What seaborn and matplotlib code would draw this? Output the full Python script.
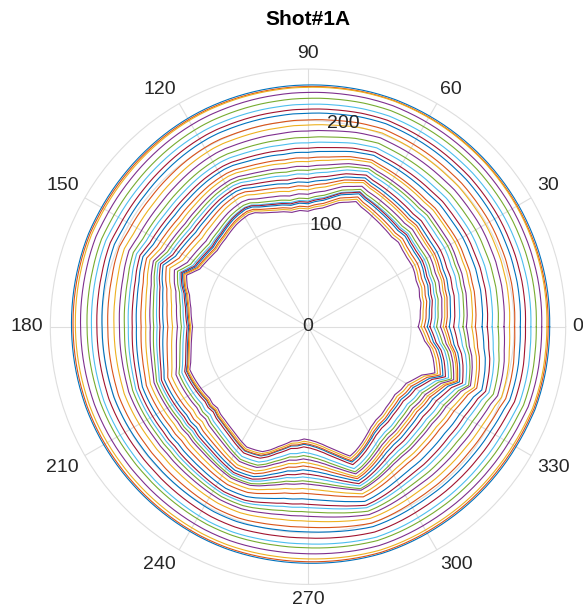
import numpy as np
import pandas as pd
import matplotlib
matplotlib.use("Agg")
import matplotlib.pyplot as plt
import matplotlib.transforms as mtransforms
import seaborn as sns

# Innermost contour of the shot: angle (deg) and radius
inner_deg = [0, 4, 8, 12, 15, 19, 23, 27, 30, 35, 39, 43, 47, 53, 58, 62, 66, 69, 72, 76, 80, 83,
             87, 90, 94, 98, 102, 105, 109, 112, 115, 118, 122, 125, 129, 133, 137, 140, 144, 147,
             152, 155, 157, 160, 162, 165, 168, 171, 174, 177, 180, 184, 187, 190, 194, 197, 200,
             205, 209, 213, 216, 219, 222, 225, 228, 232, 235, 239, 243, 247, 250, 253, 256, 259,
             262, 265, 268, 271, 274, 277, 280, 284, 288, 291, 295, 298, 302, 306, 310, 314, 318,
             322, 326, 330, 333, 337, 340, 343, 346, 350, 353, 357]
inner_r = [107, 109, 110, 112, 112, 114, 114, 116, 117, 117, 118, 120, 119, 121, 123, 125, 127, 130,
           127, 124, 119, 116, 114, 112, 113, 112, 114, 115, 117, 119, 122, 123, 122, 121, 119, 117,
           116, 115, 116, 117, 119, 124, 128, 125, 123, 119, 117, 115, 114, 113, 112, 113, 114, 115,
           117, 119, 122, 121, 120, 119, 118, 119, 118, 120, 121, 123, 125, 128, 131, 130, 129, 125,
           120, 116, 112, 111, 109, 110, 112, 115, 119, 125, 132, 129, 124, 120, 115, 112, 111, 109,
           108, 107, 109, 110, 114, 120, 131, 128, 125, 120, 114, 110]

# Radius of every contour (outermost first) along 0, 90, 180 and 270 degrees
r_east = [233, 232, 231, 227, 222, 217, 211, 206, 201, 196, 190, 185, 179, 174, 169, 163,
          159, 154, 150, 146, 141, 136, 133, 130, 127, 123, 120, 117, 115, 112, 110, 107]
r_north = [236, 234, 233, 227, 221, 215, 211, 207, 200, 195, 190, 183, 178, 173, 169, 163,
           160, 155, 152, 148, 144, 141, 137, 134, 130, 126, 124, 122, 120, 117, 114, 112]
r_west = [228, 227, 225, 221, 215, 211, 205, 200, 195, 189, 183, 179, 175, 171, 167, 163,
          158, 154, 150, 147, 144, 140, 136, 131, 126, 122, 119, 117, 116, 115, 115, 113]
r_south = [231, 229, 226, 220, 214, 210, 205, 199, 194, 188, 184, 179, 175, 172, 167, 161,
           157, 152, 150, 146, 143, 140, 136, 133, 130, 127, 124, 118, 115, 114, 111, 109]
# How strongly each contour follows the ragged inner outline
roughness = [0.04, 0.05, 0.06, 0.08, 0.10, 0.12, 0.14, 0.16, 0.20, 0.24, 0.28, 0.32, 0.36, 0.40,
             0.45, 0.50, 0.55, 0.60, 0.65, 0.70, 0.75, 0.80, 0.85, 0.90, 0.90, 0.95, 0.95, 1.0,
             1.0, 1.0, 1.0, 1.0]

theta_ticks = list(range(0, 360, 30))
r_ticks = [0, 100, 200]
r_max = 250
matlab_colors = ["#0072BD", "#D95319", "#EDB120", "#7E2F8E", "#77AC30", "#4DBEEE", "#A2142F"]


def offset_circle(e, n, w, s, th):
    rad = (e + n + w + s) / 4.0
    return rad + (e - w) / 2.0 * np.cos(th) + (n - s) / 2.0 * np.sin(th)


# sample every degree so the contours follow the polar arcs
deg = np.arange(0, 361, 1.0)
th = np.deg2rad(deg)
ring = np.interp(deg, inner_deg + [360], inner_r + inner_r[:1])
detail = ring - offset_circle(r_east[-1], r_north[-1], r_west[-1], r_south[-1], th)

names = [f"c{k + 1:02d}" for k in range(len(r_east))]
frames = []
for k, name in enumerate(names):
    r = offset_circle(r_east[k], r_north[k], r_west[k], r_south[k], th) + roughness[k] * detail
    frames.append(pd.DataFrame({"theta": th, "r": r, "contour": name}))
df = pd.concat(frames, ignore_index=True)
palette = [matlab_colors[k % 7] for k in range(len(names))]

plt.rcParams["font.family"] = ["Liberation Sans", "DejaVu Sans"]
fig = plt.figure(figsize=(5.83, 6.15), dpi=100)
ax = fig.add_axes([0.0863, 0.0498, 0.884, 0.838], projection="polar")

sns.lineplot(data=df, x="theta", y="r", hue="contour", hue_order=names, palette=palette,
             sort=False, estimator=None, legend=False, linewidth=0.8, ax=ax)

grid_col = "#dedede"
ax.set_ylim(0, r_max)
ax.set_yticks(r_ticks)
ax.set_yticklabels([])
ax.set_xticks(np.deg2rad(theta_ticks))
ax.set_xticklabels([])
ax.tick_params(length=0)
ax.grid(True, color=grid_col, linewidth=0.8)
ax.spines["polar"].set_color(grid_col)
ax.spines["polar"].set_linewidth(0.8)
ax.set_xlabel("")
ax.set_ylabel("")

text_col = "#262626"
for v in r_ticks:
    ax.text(np.deg2rad(80), v, str(v), ha="center", va="center", fontsize=14, color=text_col)

for d in theta_ticks:
    a = np.deg2rad(d)
    c, s = np.cos(a), np.sin(a)
    ha = "left" if c > 0.3 else ("right" if c < -0.3 else "center")
    va = "bottom" if s > 0.3 else ("top" if s < -0.3 else "center")
    tr = mtransforms.offset_copy(ax.transData, fig=fig, x=5 * c, y=5 * s, units="points")
    ax.text(a, r_max, str(d), ha=ha, va=va, fontsize=14, color=text_col,
            transform=tr, clip_on=False)

fig.text(308 / 583, 1 - 19.5 / 615, "Shot#1A", ha="center", va="center",
         fontsize=15, fontweight="bold", color="black")

fig.savefig("out.png", dpi=100)
